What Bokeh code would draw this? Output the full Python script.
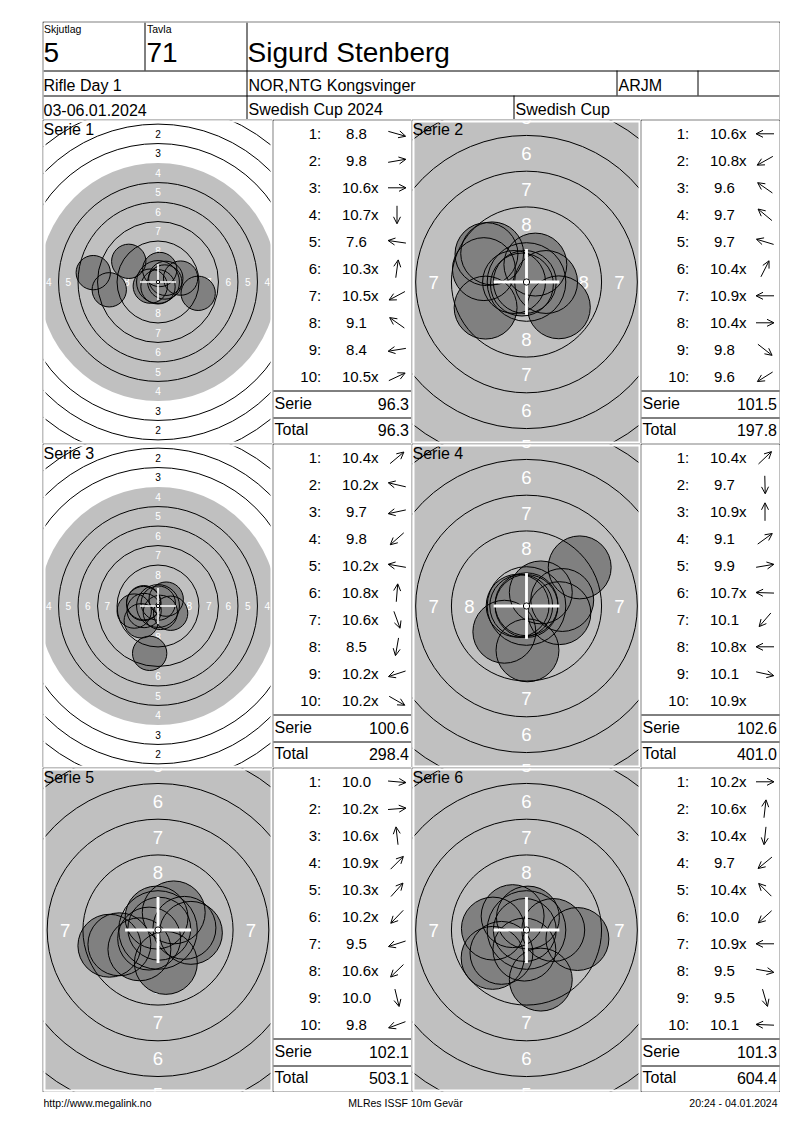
import math
from bokeh.plotting import figure
from bokeh.models import Range1d, ColumnDataSource, Arrow, OpenHead, Spacer
from bokeh.layouts import row, column
from bokeh.core.properties import value
from bokeh.embed import file_html
from bokeh.resources import INLINE

FONT = "Liberation Sans"

# ---------------- header / footer texts ----------------
SHOOTING_GROUP_LABEL = "Skjutlag"
SHOOTING_GROUP = "5"
TARGET_LABEL = "Tavla"
TARGET_NO = "71"
NAME = "Sigurd Stenberg"
EVENT = "Rifle Day 1"
CLUB = "NOR,NTG Kongsvinger"
CLASS = "ARJM"
DATES = "03-06.01.2024"
COMPETITION = "Swedish Cup 2024"
CUP = "Swedish Cup"
FOOTER_LEFT = "http://www.megalink.no"
FOOTER_MID = "MLRes ISSF 10m Gevär"
FOOTER_RIGHT = "20:24 - 04.01.2024"

# ---------------- series data ----------------
SERIES_LABELS = ["Serie 1", "Serie 2", "Serie 3", "Serie 4", "Serie 5", "Serie 6"]
SERIE_SUMS = [96.3, 101.5, 100.6, 102.6, 102.1, 101.3]
RUNNING_TOTALS = [96.3, 197.8, 298.4, 401.0, 503.1, 604.4]

S1_SCORES = ["8.8", "9.8", "10.6x", "10.7x", "7.6", "10.3x", "10.5x", "9.1", "8.4", "10.5x"]
S1_X = [5.15, 2.9, 0.87, 0.0, -8.3, 0.22, -0.99, -3.75, -6.25, 1.0]
S1_Y = [-1.45, 0.5, 0.0, -0.62, 1.2, 1.6, -0.53, 2.65, -1.0, 0.47]

S2_SCORES = ["10.6x", "10.8x", "9.6", "9.7", "9.7", "10.4x", "10.9x", "10.4x", "9.8", "9.6"]
S2_X = [-0.87, -0.32, -2.8, -2.4, -2.98, 0.62, -0.12, 1.37, 2.26, -2.86]
S2_Y = [0.0, -0.18, 1.95, 2.0, 0.9, 1.22, 0.0, 0.0, -1.77, -1.79]

S3_SCORES = ["10.4x", "10.2x", "9.7", "9.8", "10.2x", "10.8x", "10.6x", "8.5", "10.2x", "10.2x"]
S3_X = [1.05, -1.82, -3.05, -2.15, -1.84, 0.03, 0.3, -1.07, -1.78, 1.62]
S3_Y = [0.88, 0.42, -0.65, -1.9, 0.32, 0.37, -0.82, -6.07, -0.58, -0.93]

S4_SCORES = ["10.4x", "9.7", "10.9x", "9.1", "9.9", "10.7x", "10.1", "10.8x", "10.1", "10.9x"]
S4_X = [1.0, 0.07, 0.0, 3.72, 2.5, -0.62, -1.55, -0.37, 2.3, 0.0]
S4_Y = [0.95, -3.1, 0.12, 2.7, 0.42, 0.02, -1.8, 0.0, -0.5, 0.0]

S5_SCORES = ["10.0", "10.2x", "10.6x", "10.9x", "10.3x", "10.2x", "9.5", "10.6x", "10.0", "9.8"]
S5_X = [2.3, 1.85, -0.1, 0.09, 1.1, -1.3, -3.4, -0.62, 0.55, -2.7]
S5_Y = [-0.2, 0.15, 0.87, 0.09, 1.23, -1.35, -1.1, -0.6, -2.3, -1.0]

S6_SCORES = ["10.2x", "10.6x", "10.4x", "9.7", "10.4x", "10.0", "10.9x", "9.5", "9.5", "10.1"]
S6_X = [1.87, 0.1, -0.15, -2.37, -0.97, -1.75, -0.12, 3.56, 1.0, -2.35]
S6_Y = [0.0, 0.87, -1.37, -1.95, 0.97, -1.6, 0.0, -0.63, -3.47, 0.1]

SERIES = [
    (S1_SCORES, S1_X, S1_Y),
    (S2_SCORES, S2_X, S2_Y),
    (S3_SCORES, S3_X, S3_Y),
    (S4_SCORES, S4_X, S4_Y),
    (S5_SCORES, S5_X, S5_Y),
    (S6_SCORES, S6_X, S6_Y),
]

# ---------------- target geometry (ISSF 10 m air rifle, mm) ----------------
RING_NUMBERS = [1, 2, 3, 4, 5, 6, 7, 8, 9]
RING_RADII = [22.75, 20.25, 17.75, 15.25, 12.75, 10.25, 7.75, 5.25, 2.75]
LABEL_RINGS = [1, 2, 3, 4, 5, 6, 7, 8]
LABEL_RADII = [21.5, 19.0, 16.5, 14.0, 11.5, 9.0, 6.5, 4.0]
BLACK_RADIUS = 15.25
TEN_RADIUS = 0.22
PELLET_RADIUS = 2.2
CROSS_HALF = 2.3

# display zoom of every target, px per mm
ZOOM = [7.8, 14.3, 7.8, 14.3, 14.3, 14.3]

GRAY = "#c0c0c0"
SHOT = "#808080"


def blank(p):
    p.xgrid.visible = False
    p.ygrid.visible = False


def target_figure(idx, w, h, bl, bt, br, bb):
    scores, xs, ys = SERIES[idx]
    scale = ZOOM[idx]
    fw = w - bl - br
    fh = h - bt - bb
    hx = fw / 2 / scale
    hy = fh / 2 / scale
    p = figure(width=w, height=h, x_range=Range1d(-hx, hx), y_range=Range1d(-hy, hy),
               min_border_left=bl, min_border_right=br, min_border_top=bt, min_border_bottom=bb,
               border_fill_color="black", background_fill_color="white",
               outline_line_color=None, toolbar_location=None, output_backend="svg",
               x_axis_location=None, y_axis_location=None)
    blank(p)
    # black (grey) area
    p.circle(x=[0], y=[0], radius=BLACK_RADIUS, fill_color=GRAY, line_color=None)
    # ring numbers (only those that reach into the visible frame)
    fsize = 1.3 * scale
    pad = 0.45 * fsize / scale
    lx, ly, lt, lc = [], [], [], []
    for k, m in zip(LABEL_RINGS, LABEL_RADII):
        col = "black" if m > BLACK_RADIUS else "white"
        for dx, dy in ((0, 1), (0, -1), (-1, 0), (1, 0)):
            x, y = dx * m, dy * m
            if abs(x) > hx + pad * 0.6 or abs(y) > hy + pad:
                continue
            lx.append(x)
            ly.append(y)
            lt.append(str(k))
            lc.append(col)
    p.text(x="x", y="y", text="t", text_color="c",
           source=ColumnDataSource(dict(x=lx, y=ly, t=lt, c=lc)),
           text_font=value(FONT), text_font_size=f"{fsize:.1f}px",
           text_align="center", text_baseline="middle")
    # shots: fills then outlines
    src = ColumnDataSource(dict(x=xs, y=ys))
    p.circle(x="x", y="y", radius=PELLET_RADIUS, source=src, fill_color=SHOT, line_color=None)
    p.circle(x="x", y="y", radius=PELLET_RADIUS, source=src, fill_color=None,
             line_color="black", line_width=1)
    # ring lines (no line at the edge of the black area)
    rr = [r for k, r in zip(RING_NUMBERS, RING_RADII) if k != 4]
    p.circle(x=[0] * len(rr), y=[0] * len(rr), radius=rr, fill_color=None,
             line_color="black", line_width=1)
    # centre cross + ten ring
    p.segment(x0=[-CROSS_HALF, 0], y0=[0, -CROSS_HALF], x1=[CROSS_HALF, 0], y1=[0, CROSS_HALF],
              line_color="white", line_width=0.2 * scale)
    p.circle(x=[0], y=[0], radius=TEN_RADIUS, fill_color="white", line_color="black", line_width=1)
    # white inner margin
    p.rect(x=[0], y=[0], width=2 * hx, height=2 * hy, fill_color=None,
           line_color="white", line_width=4)
    p.text(x=[-hx], y=[hy], text=[SERIES_LABELS[idx]], text_font=value(FONT),
           text_font_size="16px", text_color="black", text_align="left", text_baseline="top")
    return p


def list_figure(idx, x0, y0, w, h, bl, bt, br, bb):
    scores, xs, ys = SERIES[idx]
    p = figure(width=w, height=h, x_range=Range1d(x0 + bl, x0 + w - br),
               y_range=Range1d(y0 + h - bb, y0 + bt),
               min_border_left=bl, min_border_right=br, min_border_top=bt, min_border_bottom=bb,
               border_fill_color="black", background_fill_color="white",
               outline_line_color=None, toolbar_location=None, output_backend="svg",
               x_axis_location=None, y_axis_location=None)
    blank(p)
    rows_y = [y0 + 14.3 + 27 * i for i in range(len(scores))]
    nums = [f"{i + 1}:" for i in range(len(scores))]
    vals = [s.rstrip("x") for s in scores]
    f15 = "15px"
    p.text(x=[x0 + 48.7] * len(nums), y=rows_y, text=nums, text_font=value(FONT),
           text_font_size=f15, text_align="right", text_baseline="middle", text_color="black")
    p.text(x=[x0 + 84] * len(vals), y=rows_y, text=vals, text_font=value(FONT),
           text_font_size=f15, text_align="center", text_baseline="middle", text_color="black")
    xm_y = [yy for yy, s in zip(rows_y, scores) if s.endswith("x")]
    p.text(x=[x0 + 98.6] * len(xm_y), y=xm_y, text=["x"] * len(xm_y), text_font=value(FONT),
           text_font_size=f15, text_align="left", text_baseline="middle", text_color="black")
    # direction arrows from shot positions
    half = 9.0
    ax = x0 + 124.5
    xs0, ys0, xe, ye = [], [], [], []
    for sx, sy, yy in zip(xs, ys, rows_y):
        if math.hypot(sx, sy) < 0.05:
            continue
        a = math.atan2(sy, sx)
        dx, dy = half * math.cos(a), -half * math.sin(a)
        xs0.append(ax - dx)
        ys0.append(yy - dy)
        xe.append(ax + dx)
        ye.append(yy + dy)
    asrc = ColumnDataSource(dict(xs=xs0, ys=ys0, xe=xe, ye=ye))
    p.add_layout(Arrow(end=OpenHead(size=7, line_width=1, line_color="black"),
                       x_start="xs", y_start="ys", x_end="xe", y_end="ye", source=asrc,
                       line_color="black", line_width=1))
    # sum lines
    p.segment(x0=[x0, x0], y0=[y0 + 271.5, y0 + 298.5], x1=[x0 + w, x0 + w],
              y1=[y0 + 271.5, y0 + 298.5], line_color="black", line_width=1)
    p.text(x=[x0 + 2, x0 + 2], y=[y0 + 284.3, y0 + 310.3], text=["Serie", "Total"],
           text_font=value(FONT), text_font_size="16px", text_align="left",
           text_baseline="middle", text_color="black")
    p.text(x=[x0 + 136.5, x0 + 136.5], y=[y0 + 284.3, y0 + 310.3],
           text=[f"{SERIE_SUMS[idx]:.1f}", f"{RUNNING_TOTALS[idx]:.1f}"],
           text_font=value(FONT), text_font_size="16px", text_align="right",
           text_baseline="middle", text_color="black")
    return p


def header_figure():
    x0, y0, w, h = 42, 21, 738, 98
    p = figure(width=w, height=h, x_range=Range1d(x0 + 1, x0 + w - 1), y_range=Range1d(y0 + h, y0 + 1),
               min_border_left=1, min_border_right=1, min_border_top=1, min_border_bottom=0,
               border_fill_color="black", background_fill_color="white",
               outline_line_color=None, toolbar_location=None, output_backend="svg",
               x_axis_location=None, y_axis_location=None)
    blank(p)
    # cell lines
    p.segment(x0=[144.5, 246.5, 43, 43, 616.5, 697.5, 513.5],
              y0=[22, 22, 70.5, 95.5, 70, 70, 95],
              x1=[144.5, 246.5, 779, 779, 616.5, 697.5, 513.5],
              y1=[70, 119, 70.5, 95.5, 95, 95, 119],
              line_color="black", line_width=1)

    def t(x, y, s, size):
        p.text(x=[x], y=[y], text=[s], text_font=value(FONT), text_font_size=size,
               text_align="left", text_baseline="middle", text_color="black")
    t(43.5, 28.2, SHOOTING_GROUP_LABEL, "10.5px")
    t(146.5, 28.2, TARGET_LABEL, "10.5px")
    t(43, 51.8, SHOOTING_GROUP, "28px")
    t(146, 51.8, TARGET_NO, "28px")
    t(247, 51.8, NAME, "28px")
    t(43, 85.3, EVENT, "16px")
    t(248, 85.3, CLUB, "16px")
    t(618, 85.3, CLASS, "16px")
    t(43, 109.3, DATES, "16px")
    t(248, 109.3, COMPETITION, "16px")
    t(515, 109.3, CUP, "16px")
    return p


def footer_figure():
    x0, y0, w, h = 42, 1092, 738, 20
    p = figure(width=w, height=h, x_range=Range1d(x0, x0 + w), y_range=Range1d(y0 + h, y0),
               min_border=0, background_fill_color="white", border_fill_color="white",
               outline_line_color=None, toolbar_location=None, output_backend="svg",
               x_axis_location=None, y_axis_location=None)
    blank(p)
    for x, s, al in ((42, FOOTER_LEFT, "left"), (405, FOOTER_MID, "center"), (778, FOOTER_RIGHT, "right")):
        p.text(x=[x], y=[1102.5], text=[s], text_font=value(FONT), text_font_size="10.5px",
               text_align=al, text_baseline="middle", text_color="black")
    return p


ROW_TOPS = [119, 443, 767]
ROW_HEIGHTS = [324, 324, 325]
rows = []
for r in range(3):
    y0 = ROW_TOPS[r]
    h = ROW_HEIGHTS[r]
    bb = 1 if r == 2 else 0
    a = 2 * r
    b = 2 * r + 1
    rows.append(row(
        target_figure(a, 230, h, 1, 1, 0, bb),
        list_figure(a, 272, y0, 139, h, 1, 1, 0, bb),
        target_figure(b, 229, h, 1, 1, 0, bb),
        list_figure(b, 640, y0, 140, h, 1, 1, 1, bb),
    ))

page = row(Spacer(width=42),
           column(Spacer(height=21), header_figure(), *rows, footer_figure()))

open("out.html", "w").write(file_html(page, INLINE))
